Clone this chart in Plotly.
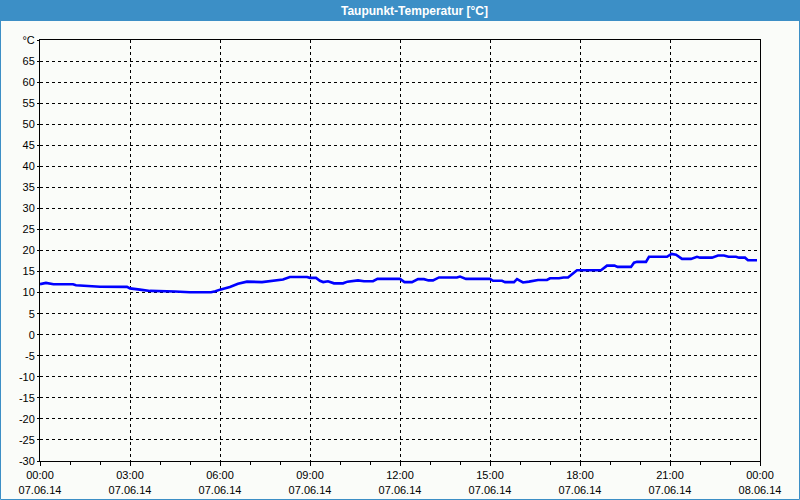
import pandas as pd
import plotly.graph_objects as go

# hours after 07.06.14 00:00 and dew point values in °C
hours = [
    0.0, 0.2, 0.45, 1.1, 1.2, 1.5, 2.0, 2.9, 3.0, 3.33, 3.67, 4.5, 5.0, 5.7,
    5.85, 6.0, 6.33, 6.6, 6.9, 7.4, 7.7, 8.1, 8.33, 8.9, 9.0, 9.2, 9.33, 9.44,
    9.6, 9.8, 10.1, 10.25, 10.6, 10.8, 11.1, 11.25, 12.0, 12.15, 12.4, 12.6,
    12.8, 12.95, 13.1, 13.3, 13.9, 14.0, 14.2, 15.0, 15.1, 15.4, 15.5, 15.8,
    15.9, 16.1, 16.3, 16.6, 16.9, 17.0, 17.3, 17.45, 17.6, 17.75, 17.9, 18.7,
    18.9, 19.15, 19.25, 19.7, 19.8, 19.9, 20.2, 20.3, 20.9, 21.05, 21.2, 21.4,
    21.7, 21.9, 22.0, 22.4, 22.6, 22.8, 22.95, 23.2, 23.3, 23.5, 23.6, 23.9,
]
dew_point = [
    12.0, 12.3, 12.0, 12.0, 11.75, 11.6, 11.4, 11.35, 11.0, 10.7, 10.4, 10.25,
    10.1, 10.1, 10.3, 10.7, 11.35, 12.1, 12.6, 12.5, 12.8, 13.1, 13.7, 13.7,
    13.5, 13.5, 12.8, 12.5, 12.7, 12.2, 12.2, 12.6, 12.9, 12.7, 12.7, 13.25,
    13.25, 12.5, 12.5, 13.2, 13.2, 12.9, 12.9, 13.6, 13.6, 13.8, 13.25, 13.25,
    12.8, 12.8, 12.5, 12.5, 13.2, 12.4, 12.6, 13.0, 13.0, 13.4, 13.4, 13.6,
    13.6, 14.4, 15.3, 15.3, 16.4, 16.4, 16.1, 16.1, 17.1, 17.3, 17.3, 18.5,
    18.5, 19.2, 19.0, 18.0, 18.0, 18.5, 18.3, 18.3, 18.8, 18.8, 18.5, 18.5,
    18.3, 18.3, 17.7, 17.7,
]

x_tick_hours = [0, 3, 6, 9, 12, 15, 18, 21, 24]
x_tick_text = [
    "00:00<br>07.06.14", "03:00<br>07.06.14", "06:00<br>07.06.14",
    "09:00<br>07.06.14", "12:00<br>07.06.14", "15:00<br>07.06.14",
    "18:00<br>07.06.14", "21:00<br>07.06.14", "00:00<br>08.06.14",
]
y_tick_vals = list(range(-30, 75, 5))
y_tick_text = [str(v) for v in range(-30, 70, 5)] + ["°C"]

title = "<b>Taupunkt-Temperatur [°C]</b>"

start = pd.Timestamp("2014-06-07 00:00")
times = [start + pd.Timedelta(hours=h) for h in hours]
tick_times = [start + pd.Timedelta(hours=h) for h in x_tick_hours]

fig = go.Figure()
fig.add_trace(go.Scatter(
    x=times,
    y=dew_point,
    mode="lines",
    line=dict(color="#0000ff", width=2.6),
    hoverinfo="x+y",
))

axis_font = dict(family="Liberation Sans, Arial", size=11, color="#000000")
bg = "#fafcf9"

fig.update_layout(
    width=800,
    height=500,
    margin=dict(l=40, r=40, t=40, b=39, autoexpand=False),
    paper_bgcolor=bg,
    plot_bgcolor=bg,
    showlegend=False,
    xaxis=dict(
        range=[start, start + pd.Timedelta(hours=24)],
        automargin=False,
        tickvals=tick_times,
        ticktext=x_tick_text,
        tickfont=axis_font,
        ticks="outside",
        ticklen=4,
        tickcolor="#000000",
        showgrid=True,
        gridcolor="#000000",
        gridwidth=1,
        griddash="3px,3px",
        minor=dict(dtick=3600000, ticks="outside", ticklen=3,
                   tickcolor="#000000", showgrid=False),
        showline=True,
        linecolor="#000000",
        linewidth=1,
        mirror=True,
        zeroline=False,
        fixedrange=True,
    ),
    yaxis=dict(
        range=[-30, 70],
        automargin=False,
        tickvals=y_tick_vals,
        ticktext=y_tick_text,
        tickfont=axis_font,
        ticks="outside",
        ticklen=2,
        tickcolor="#000000",
        showgrid=True,
        gridcolor="#000000",
        gridwidth=1,
        griddash="3px,3px",
        showline=True,
        linecolor="#000000",
        linewidth=1,
        mirror=True,
        zeroline=False,
        fixedrange=True,
    ),
)

# blue window title bar and frame
px_w = 720.0
px_h = 421.0
fig.add_shape(
    type="rect", xref="paper", yref="paper",
    x0=-40 / px_w, x1=1 + 40 / px_w,
    y0=1 + 19 / px_h, y1=1 + 40 / px_h,
    fillcolor="#3c8fc6", line=dict(width=0), layer="above",
)
fig.add_shape(
    type="rect", xref="paper", yref="paper",
    x0=-39.5 / px_w, x1=1 + 39.5 / px_w,
    y0=-38.5 / px_h, y1=1 + 40 / px_h,
    fillcolor="rgba(0,0,0,0)", line=dict(color="#3c8fc6", width=1),
    layer="above",
)
fig.add_annotation(
    text=title, xref="paper", yref="paper",
    x=(414 - 40) / px_w, y=1 + 29.5 / px_h,
    xanchor="center", yanchor="middle", showarrow=False,
    font=dict(family="Liberation Sans, Arial", size=12, color="#ffffff"),
)

fig.write_html(
    "out.html",
    config={"displayModeBar": False},
    post_script="document.body.style.margin = '0';",
)
